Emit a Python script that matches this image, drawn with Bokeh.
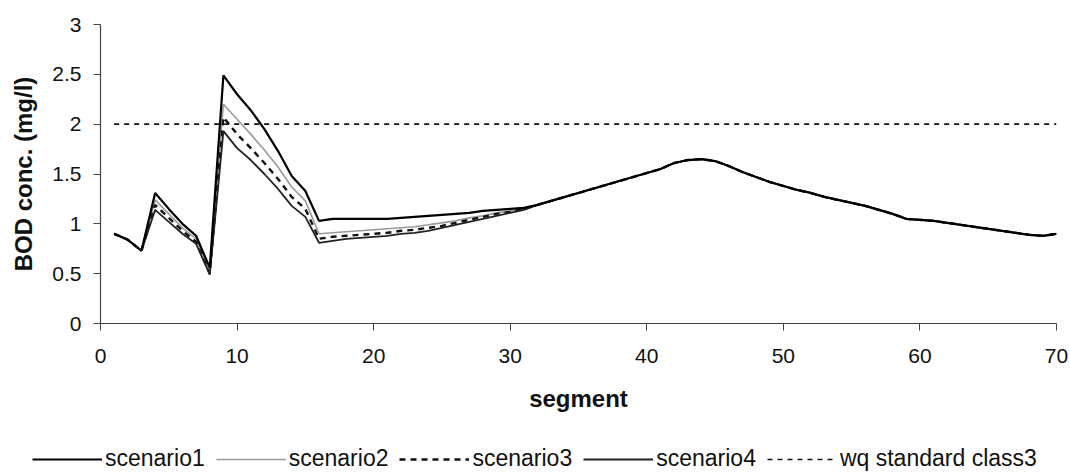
from bokeh.plotting import figure
from bokeh.layouts import column, row
from bokeh.models import (Range1d, FixedTicker, CustomJSTickFormatter, Legend, LegendItem)
from bokeh.embed import file_html
from bokeh.resources import INLINE

# Segments along the river
segments = list(range(1, 71))

# BOD concentration (mg/l) for segments 1-31, where the scenarios differ
scenario1_head = [0.90, 0.84, 0.73, 1.31, 1.15, 1.00, 0.88, 0.56, 2.49, 2.30,
                  2.14, 1.95, 1.73, 1.48, 1.33, 1.03, 1.05, 1.05, 1.05, 1.05,
                  1.05, 1.06, 1.07, 1.08, 1.09, 1.10, 1.11, 1.13, 1.14, 1.15, 1.16]
scenario2_head = [0.90, 0.84, 0.73, 1.24, 1.10, 0.96, 0.85, 0.52, 2.20, 2.05,
                  1.90, 1.74, 1.57, 1.37, 1.23, 0.90, 0.91, 0.92, 0.93, 0.94,
                  0.95, 0.96, 0.97, 0.99, 1.01, 1.03, 1.06, 1.08, 1.11, 1.13, 1.15]
scenario3_head = [0.90, 0.84, 0.73, 1.19, 1.06, 0.93, 0.82, 0.50, 2.07, 1.90,
                  1.76, 1.61, 1.45, 1.27, 1.15, 0.85, 0.87, 0.88, 0.89, 0.90,
                  0.91, 0.93, 0.94, 0.96, 0.98, 1.01, 1.04, 1.07, 1.10, 1.12, 1.15]
scenario4_head = [0.90, 0.84, 0.73, 1.14, 1.02, 0.90, 0.80, 0.49, 1.93, 1.76,
                  1.64, 1.50, 1.35, 1.18, 1.07, 0.81, 0.83, 0.85, 0.86, 0.87,
                  0.88, 0.90, 0.91, 0.93, 0.96, 0.99, 1.02, 1.05, 1.08, 1.11, 1.14]
# Segments 32-70: all scenarios coincide
common_tail = [1.19, 1.23, 1.27, 1.31, 1.35, 1.39, 1.43, 1.47, 1.51, 1.55,
               1.61, 1.64, 1.65, 1.63, 1.58, 1.52, 1.47, 1.42, 1.38, 1.34,
               1.31, 1.27, 1.24, 1.21, 1.18, 1.14, 1.10, 1.05, 1.04, 1.03,
               1.01, 0.99, 0.97, 0.95, 0.93, 0.91, 0.89, 0.88, 0.90]

scenario1 = scenario1_head + common_tail
scenario2 = scenario2_head + common_tail
scenario3 = scenario3_head + common_tail
scenario4 = scenario4_head + common_tail

# Water-quality standard, class 3
standard_segments = [1, 70]
standard_values = [2.0, 2.0]

x_ticks = [0, 10, 20, 30, 40, 50, 60, 70]
y_ticks = [0, 0.5, 1, 1.5, 2, 2.5, 3]

series_labels = ["scenario1", "scenario2", "scenario3", "scenario4",
                 "wq standard class3"]
series_x = [segments, segments, segments, segments, standard_segments]
series_y = [scenario1, scenario2, scenario3, scenario4, standard_values]

FONT = "Liberation Sans"
INK = "#111111"

# Line styles per series (same order as series_labels)
STYLES = [
    dict(line_color="#000000", line_width=2.2),
    dict(line_color="#9a9a9a", line_width=1.6),
    dict(line_color="#111111", line_width=2.4, line_dash="6 5"),
    dict(line_color="#222222", line_width=1.8),
    dict(line_color="#111111", line_width=1.6, line_dash="5 5"),
]

p = figure(width=1070, height=430, output_backend="svg", toolbar_location=None,
           x_range=Range1d(0, 70), y_range=Range1d(0, 3),
           min_border_left=100, min_border_right=14, min_border_top=24,
           min_border_bottom=107)
p.outline_line_color = None
p.xgrid.visible = False
p.ygrid.visible = False
p.background_fill_color = "white"
p.border_fill_color = "white"

for ax in (p.xaxis[0], p.yaxis[0]):
    ax.axis_line_color = "#444444"
    ax.axis_line_width = 1.2
    ax.major_tick_line_color = "#444444"
    ax.major_tick_in = 0
    ax.major_tick_out = 7
    ax.minor_tick_line_color = None
    ax.major_label_text_font = FONT
    ax.major_label_text_font_size = "21px"
    ax.major_label_text_color = INK
    ax.axis_label_text_font = FONT
    ax.axis_label_text_font_size = "24px"
    ax.axis_label_text_font_style = "bold"
    ax.axis_label_text_color = INK
    ax.formatter = CustomJSTickFormatter(code="return String(tick);")

p.xaxis.ticker = FixedTicker(ticks=x_ticks)
p.yaxis.ticker = FixedTicker(ticks=y_ticks)
p.xaxis.axis_label = "segment"
p.yaxis.axis_label = "BOD conc. (mg/l)"
p.xaxis.major_label_standoff = 18
p.xaxis.axis_label_standoff = 19
p.yaxis.major_label_standoff = 12
p.yaxis.axis_label_standoff = 12

# draw order: lighter lines underneath, scenario1 on top
for i in (1, 2, 3, 0, 4):
    p.line(series_x[i], series_y[i], **STYLES[i])

# Legend strip underneath the chart; its own copies of the series sit
# outside the strip's visible y range, so only the key is seen.
lg = figure(width=1070, height=42, output_backend="svg", toolbar_location=None,
            x_range=Range1d(0, 70), y_range=Range1d(100, 101),
            x_axis_location=None, y_axis_location=None,
            min_border_left=0, min_border_right=0,
            min_border_top=0, min_border_bottom=0)
lg.grid.visible = False
lg.outline_line_color = None
lg.background_fill_color = "white"
lg.border_fill_color = "white"

items = []
for label, xs, ys, style in zip(series_labels, series_x, series_y, STYLES):
    r = lg.line(xs, ys, **style)
    items.append(LegendItem(label=label, renderers=[r]))

legend = Legend(items=items, orientation="horizontal", location=(32, 0))
legend.label_text_font = FONT
legend.label_text_font_size = "23px"
legend.label_text_color = INK
legend.glyph_width = 70
legend.glyph_height = 24
legend.label_height = 24
legend.label_standoff = 3
legend.spacing = 11
legend.padding = 0
legend.margin = 0
legend.border_line_color = None
legend.background_fill_alpha = 0
lg.add_layout(legend, "center")

layout = column(p, row(lg), spacing=0)
open("out.html", "w").write(file_html(layout, INLINE))
